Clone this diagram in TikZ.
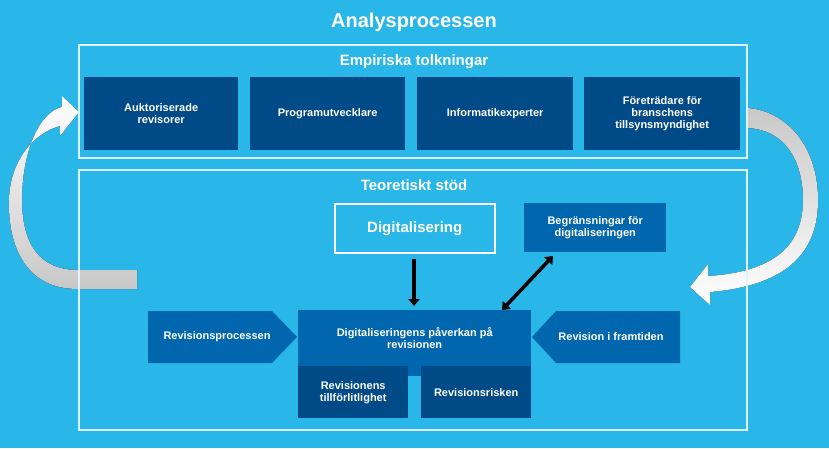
\documentclass[tikz,border=0pt]{standalone}
\usepackage{fontspec}
\setmainfont{Liberation Sans}
\usetikzlibrary{arrows.meta,shapes.arrows}
\definecolor{bg}{HTML}{29B6E9}
\definecolor{dk}{HTML}{004A88}
\definecolor{md}{HTML}{0066AE}
\definecolor{gr}{HTML}{C8C8C8}
\tikzset{
  box/.style={fill=dk,text=white,font=\bfseries\fontsize{11}{12}\selectfont,align=center,inner sep=0,anchor=north west},
  mbox/.style={box,fill=md},
  frame/.style={draw=white!85!bg,line width=1.2pt},
  ttl/.style={text=white,font=\bfseries\fontsize{15}{17}\selectfont},
  blk/.style={-{Triangle[length=7pt,width=11pt]},line width=3.5pt,black,shorten >=0pt},
}
\begin{document}
\begin{tikzpicture}[x=1pt,y=-1pt]
\fill[bg] (0,0) rectangle (829,448);
\useasboundingbox (0,0) rectangle (829,448);
\node[text=white,font=\bfseries\fontsize{20}{22}\selectfont] (title) at (414,22) {Analysprocessen};
% curved arrows
\fill[top color=white,bottom color=gr,shading angle=0]
  (137,289) -- (78,289) .. controls (25,289) and (8,245) .. (9,200)
  .. controls (10,160) and (35,132) .. (60,126) -- (60,136) -- (79,112) -- (62,96) -- (62,107)
  .. controls (40,112) and (22,150) .. (22,200) .. controls (22,245) and (40,270) .. (78,270) -- (137,270) -- cycle;
\fill[top color=gr,bottom color=white]
  (748,108) .. controls (790,112) and (818,150) .. (818,200)
  .. controls (818,250) and (790,285) .. (710,292) -- (710,305) -- (690,287) -- (708,264) -- (708,276)
  .. controls (775,272) and (803,245) .. (803,200) .. controls (803,160) and (785,130) .. (748,128) -- cycle;
% frames
\draw[frame] (79,45) rectangle (747,158);
\node[ttl] (emp) at (414,62) {Empiriska tolkningar};
\node[box,minimum width=154,minimum height=73] (a1) at (84,77) {Auktoriserade\\revisorer};
\node[box,minimum width=155,minimum height=73] (a2) at (250,77) {Programutvecklare};
\node[box,minimum width=156,minimum height=73] (a3) at (417,77) {Informatikexperter};
\node[box,minimum width=156,minimum height=73] (a4) at (584,77) {Företrädare för\\branschens\\tillsynsmyndighet};
\draw[frame] (79,170) rectangle (747,430);
\node[ttl] (teo) at (414,185) {Teoretiskt stöd};
\node[box,fill=bg,draw=white,line width=1.5pt,minimum width=160,minimum height=49,font=\bfseries\fontsize{15}{17}\selectfont] (dig) at (334,203) {Digitalisering};
\node[mbox,minimum width=142,minimum height=49] (beg) at (524,203) {Begränsningar för\\digitaliseringen};
\fill[md] (298,310) rectangle (531,376);
\node[mbox,fill=none,minimum width=233,minimum height=55] (center) at (298,310) {Digitaliseringens påverkan på\\revisionen};
\node[box,minimum width=110,minimum height=52] (s1) at (298,366) {Revisionens\\tillförlitlighet};
\node[box,minimum width=110,minimum height=52] (s2) at (421,366) {Revisionsrisken};
\fill[md] (148,311) -- (272,311) -- (297,337) -- (272,363) -- (148,363) -- cycle;
\node[text=white,font=\bfseries\fontsize{11}{12}\selectfont] (rp) at (217,337) {Revisionsprocessen};
\fill[md] (680,311) -- (556,311) -- (532,337) -- (556,363) -- (680,363) -- cycle;
\node[text=white,font=\bfseries\fontsize{11}{12}\selectfont] (rf) at (611,337) {Revision i framtiden};
\coordinate (d1) at (414,259);
\coordinate (d2) at (414,306);
\draw[blk] (d1) -- (d2);
\coordinate (b1) at (553,256);
\coordinate (b2) at (502,310);
\draw[{Triangle[length=7pt,width=11pt]}-{Triangle[length=7pt,width=11pt]},line width=3.5pt] (b1) -- (b2);
\end{tikzpicture}
\end{document}
